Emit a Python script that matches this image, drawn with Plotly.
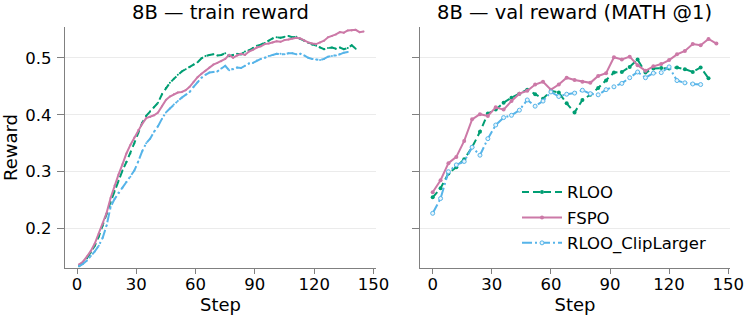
import plotly.graph_objects as go

# ---- train reward (every 2 steps) ----
train_steps_fspo = list(range(1, 146, 2))
train_fspo = [0.137, 0.142, 0.151, 0.161, 0.174, 0.191, 0.208, 0.228, 0.254, 0.276,
              0.295, 0.313, 0.332, 0.347, 0.360, 0.373, 0.384, 0.394, 0.396, 0.399,
              0.404, 0.415, 0.426, 0.432, 0.436, 0.439, 0.440, 0.443, 0.449, 0.458,
              0.466, 0.472, 0.477, 0.483, 0.488, 0.491, 0.494, 0.498, 0.505, 0.500,
              0.504, 0.507, 0.505, 0.511, 0.514, 0.518, 0.520, 0.524, 0.525, 0.527,
              0.529, 0.528, 0.531, 0.532, 0.534, 0.535, 0.534, 0.530, 0.527, 0.525,
              0.524, 0.527, 0.530, 0.536, 0.538, 0.541, 0.545, 0.544, 0.548, 0.548,
              0.549, 0.545, 0.546]

train_steps_rloo = list(range(1, 142, 2))
train_rloo = [0.134, 0.140, 0.148, 0.158, 0.170, 0.186, 0.205, 0.226, 0.247, 0.266,
              0.284, 0.302, 0.317, 0.332, 0.350, 0.368, 0.386, 0.398, 0.406, 0.413,
              0.421, 0.436, 0.447, 0.456, 0.463, 0.470, 0.476, 0.480, 0.484, 0.488,
              0.492, 0.499, 0.503, 0.505, 0.506, 0.504, 0.505, 0.508, 0.503, 0.505,
              0.507, 0.506, 0.511, 0.513, 0.517, 0.521, 0.523, 0.526, 0.530, 0.534,
              0.536, 0.535, 0.537, 0.538, 0.536, 0.537, 0.533, 0.530, 0.526, 0.523,
              0.521, 0.518, 0.515, 0.517, 0.518, 0.516, 0.518, 0.515, 0.517, 0.522,
              0.516]

train_steps_clip = list(range(1, 138, 2))
train_clip = [0.134, 0.138, 0.144, 0.152, 0.160, 0.170, 0.184, 0.206, 0.238, 0.252,
              0.263, 0.272, 0.282, 0.291, 0.302, 0.318, 0.336, 0.350, 0.358, 0.370,
              0.380, 0.393, 0.404, 0.411, 0.418, 0.424, 0.430, 0.435, 0.440, 0.449,
              0.457, 0.465, 0.470, 0.474, 0.475, 0.476, 0.481, 0.486, 0.478, 0.480,
              0.483, 0.482, 0.486, 0.490, 0.491, 0.495, 0.498, 0.500, 0.503, 0.505,
              0.507, 0.507, 0.506, 0.508, 0.508, 0.506, 0.507, 0.504, 0.500, 0.498,
              0.497, 0.496, 0.498, 0.502, 0.503, 0.504, 0.506, 0.509, 0.510]

# ---- val reward (every 4 steps) ----
val_steps_fspo = list(range(0, 145, 4))
val_fspo = [0.264, 0.285, 0.315, 0.326, 0.354, 0.392, 0.401, 0.398, 0.413, 0.409,
            0.424, 0.437, 0.442, 0.453, 0.458, 0.444, 0.453, 0.465, 0.461, 0.458,
            0.456, 0.468, 0.473, 0.501, 0.497, 0.502, 0.487, 0.477, 0.485, 0.489,
            0.496, 0.506, 0.512, 0.524, 0.522, 0.533, 0.525]

val_steps_rloo = list(range(0, 141, 4))
val_rloo = [0.255, 0.271, 0.297, 0.308, 0.322, 0.343, 0.370, 0.402, 0.409, 0.421,
            0.430, 0.437, 0.444, 0.436, 0.428, 0.442, 0.439, 0.420, 0.404, 0.426,
            0.435, 0.447, 0.460, 0.474, 0.475, 0.484, 0.497, 0.474, 0.481, 0.482,
            0.481, 0.483, 0.480, 0.475, 0.483, 0.464]

val_steps_clip = list(range(0, 137, 4))
val_clip = [0.227, 0.253, 0.300, 0.312, 0.318, 0.343, 0.329, 0.358, 0.382, 0.395,
            0.399, 0.408, 0.426, 0.415, 0.424, 0.440, 0.432, 0.436, 0.438, 0.443,
            0.437, 0.435, 0.444, 0.449, 0.455, 0.465, 0.475, 0.465, 0.473, 0.474,
            0.484, 0.460, 0.456, 0.454, 0.453]

GREEN = "#009E73"
PINK = "#CC79A7"
BLUE = "#56B4E9"
FONT = "DejaVu Sans"

fig = go.Figure()

def add(x, y, name, color, dash, xa, ya, msize, hollow, show):
    fig.add_trace(go.Scatter(
        x=x, y=y, mode="lines+markers", name=name,
        line=dict(color=color, width=2, dash=dash),
        marker=dict(size=msize, color="#e8f5fc" if hollow else color,
                    line=dict(color=color, width=1 if hollow else 0)),
        xaxis=xa, yaxis=ya, showlegend=show, legendgroup=name))

add(train_steps_rloo, train_rloo, "RLOO", GREEN, "7px,4px", "x", "y", 2, False, False)
add(train_steps_fspo, train_fspo, "FSPO", PINK, "solid", "x", "y", 2, False, False)
add(train_steps_clip, train_clip, "RLOO_ClipLarger", BLUE, "10px,3px,2px,3px", "x", "y", 2, False, False)

add(val_steps_rloo, val_rloo, "RLOO", GREEN, "7px,4px", "x2", "y2", 4, False, True)
add(val_steps_fspo, val_fspo, "FSPO", PINK, "solid", "x2", "y2", 4, False, True)
add(val_steps_clip, val_clip, "RLOO_ClipLarger", BLUE, "10px,3px,2px,3px", "x2", "y2", 4, True, True)

axis_common = dict(showline=True, linecolor="#808080", linewidth=1.2,
                   ticks="outside", tickcolor="#808080", automargin=False,
                   tickfont=dict(family=FONT, size=16.5, color="black"),
                   zeroline=False)
xaxis_common = dict(ticklen=5, ticklabelstandoff=-4, showgrid=False,
                    tickvals=[0, 30, 60, 90, 120, 150], **axis_common)
yaxis_common = dict(ticklen=7, range=[0.131, 0.554], tickvals=[0.2, 0.3, 0.4, 0.5],
                    showgrid=True, gridcolor="#ebebeb", gridwidth=1, **axis_common)

fig.update_layout(
    width=747, height=322,
    margin=dict(l=65, r=17, t=27, b=54),
    paper_bgcolor="white", plot_bgcolor="white",
    font=dict(family=FONT, size=16.5, color="black"),
    xaxis=dict(domain=[0, 0.4677], range=[-6.07, 151.3], anchor="y",
               title=dict(text="Step", font=dict(size=18), standoff=5), **xaxis_common),
    xaxis2=dict(domain=[0.5338, 1], range=[-6.45, 150.9], anchor="y2",
                title=dict(text="Step", font=dict(size=18), standoff=5), **xaxis_common),
    yaxis=dict(anchor="x", ticklabelstandoff=2,
               title=dict(text="Reward", font=dict(size=18), standoff=9), **yaxis_common),
    yaxis2=dict(anchor="x2", showticklabels=False, **yaxis_common),
    legend=dict(x=0.6797, y=0.387, xanchor="left", yanchor="top",
                bgcolor="rgba(255,255,255,0)", itemwidth=40,
                font=dict(family=FONT, size=16.5), tracegroupgap=1),
    annotations=[
        dict(text="8B — train reward", x=0.2339, y=1.0, xref="paper", yref="paper",
             xanchor="center", yanchor="bottom", showarrow=False, yshift=1,
             font=dict(family=FONT, size=19.5)),
        dict(text="8B — val reward (MATH @1)", x=0.7669, y=1.0, xref="paper", yref="paper",
             xanchor="center", yanchor="bottom", showarrow=False, yshift=1,
             font=dict(family=FONT, size=19.5)),
    ],
)

# drop the browser's default 8px body margin so the figure fills the window
fig.write_html("out.html", config={"displayModeBar": False},
               post_script="document.body.style.margin='0px';")
